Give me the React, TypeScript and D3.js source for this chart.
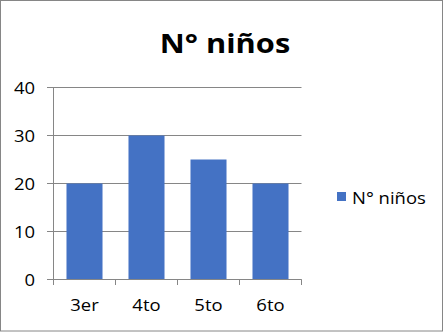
import React from "react";
import * as d3 from "d3";

const categories = ["3er", "4to", "5to", "6to"];
const values = [20, 30, 25, 20];
const yTicks = [0, 10, 20, 30, 40];
const seriesName = "N° niños";
const title = "N° niños";

const W = 444;
const H = 332;
const FONT = "'Open Sans', 'Noto Sans', sans-serif";
const SX = 1.12;

export default function App() {
  const y = d3.scaleLinear().domain([0, 40]).range([279.5, 87.5]);
  const x = d3
    .scaleBand<string>()
    .domain(categories)
    .range([53.5, 301.5])
    .paddingInner(0.419)
    .paddingOuter(0.2095);
  const step = x.step();
  const left = 53.5;
  const bounds = d3.range(categories.length + 1).map((i) => left + i * step);
  const grid = "#868686";

  const T = (px: number, py: number, s: string, props: any) => (
    <text transform={`translate(${px},${py}) scale(${SX},1)`} fontFamily={FONT} {...props}>
      {s}
    </text>
  );

  return (
    <svg
      width={W}
      height={H}
      style={{ position: "absolute", left: 0, top: 0, display: "block" }}
    >
      <rect x={0} y={0} width={W} height={H} fill="#fff" />
      <rect x={0.5} y={0.5} width={W - 2} height={H - 1.5} fill="none" stroke={grid} />
      {T(225, 53, title, { fontSize: 27.5, fontWeight: 700, textAnchor: "middle", fill: "#000" })}
      {yTicks.map((t) => (
        <g key={t}>
          <line x1={47} x2={301.5} y1={y(t)} y2={y(t)} stroke={grid} />
          {T(35, y(t) + 6, String(t), { fontSize: 16.5, textAnchor: "end", fill: "#000" })}
        </g>
      ))}
      <line x1={left} x2={left} y1={y(40)} y2={y(0)} stroke={grid} />
      {values.map((v, i) => (
        <rect
          key={categories[i]}
          x={x(categories[i])}
          y={y(v)}
          width={x.bandwidth()}
          height={y(0) - y(v)}
          fill="#4472C4"
        />
      ))}
      {bounds.map((b, i) => (
        <line key={i} x1={b} x2={b} y1={y(0)} y2={285} stroke={grid} />
      ))}
      <line x1={left} x2={301.5} y1={y(0)} y2={y(0)} stroke={grid} />
      {categories.map((c) => (
        <g key={c}>
          {T((x(c) as number) + x.bandwidth() / 2, 311, c, {
            fontSize: 16.5,
            textAnchor: "middle",
            fill: "#000",
          })}
        </g>
      ))}
      <rect x={337} y={192} width={9} height={9} fill="#4472C4" />
      {T(352, 203.5, seriesName, { fontSize: 16.5, textAnchor: "start", fill: "#000" })}
    </svg>
  );
}
